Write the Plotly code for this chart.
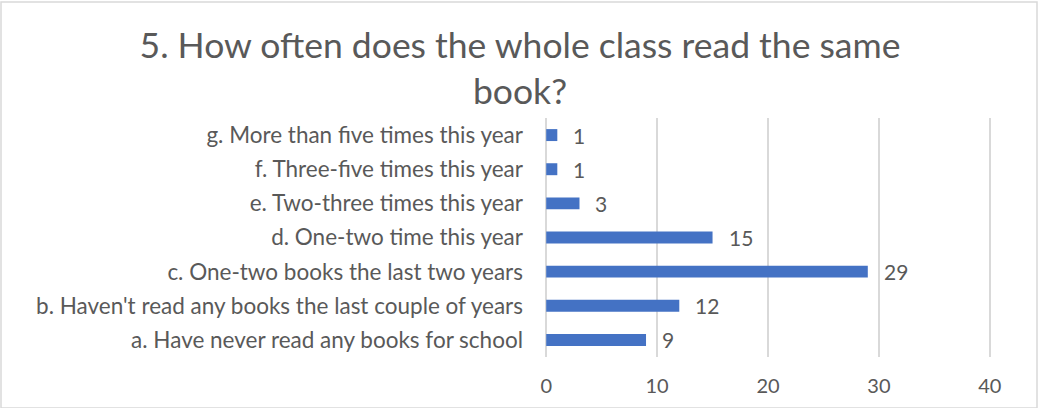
import plotly.graph_objects as go

# Survey answers, listed bottom to top as they appear on the category axis
categories = [
    "a. Have never read any books for school",
    "b. Haven't read any books the last couple of years",
    "c. One-two books the last two years",
    "d. One-two time this year",
    "e. Two-three times this year",
    "f. Three-five times this year",
    "g. More than five times this year",
]
counts = [9, 12, 29, 15, 3, 1, 1]
x_ticks = [0, 10, 20, 30, 40]

TEXT = "#595959"
BAR = "#4472C4"
GRID = "#D9D9D9"
FONT = "Lato, 'Open Sans', sans-serif"

fig = go.Figure(
    go.Bar(
        y=categories,
        x=counts,
        orientation="h",
        marker=dict(color=BAR, line=dict(width=0)),
        hoverinfo="skip",
    )
)

# value labels placed just past the end of each bar
for cat, val in zip(categories, counts):
    fig.add_annotation(
        x=val, y=cat, text=str(val), showarrow=False,
        xanchor="left", yanchor="middle", xshift=14, yshift=0,
        font=dict(family=FONT, size=21, color=TEXT),
    )

fig.update_layout(
    width=1040,
    height=408,
    margin=dict(l=544, r=48, t=118, b=51),
    paper_bgcolor="white",
    plot_bgcolor="white",
    bargap=0.65,
    showlegend=False,
    title=dict(
        text="5. How often does the whole class read the same<br>book?",
        x=0.5, xanchor="center", xref="container",
        y=1 - 58 / 408, yanchor="top", yref="container",
        font=dict(family=FONT, size=35.5, color=TEXT),
    ),
    xaxis=dict(
        range=[-0.2, 40.2],
        tickvals=x_ticks,
        showgrid=True, gridcolor=GRID, gridwidth=1.5,
        zeroline=False, showline=False,
        tickfont=dict(family=FONT, size=20, color=TEXT),
        ticklabelstandoff=15,
        fixedrange=True,
    ),
    yaxis=dict(
        categoryorder="array", categoryarray=categories,
        showgrid=False, zeroline=False, showline=False,
        tickfont=dict(family=FONT, size=22.5, color=TEXT),
        ticklabelstandoff=20,
        fixedrange=True,
    ),
    shapes=[
        dict(type="rect", xref="paper", yref="paper",
             x0=-543 / 448, x1=1 + 45 / 448, y0=-51 / 239, y1=1 + 116 / 239,
             line=dict(color=GRID, width=1.5), fillcolor="rgba(0,0,0,0)",
             layer="below"),
    ],
)

fig.write_html("out.html")
